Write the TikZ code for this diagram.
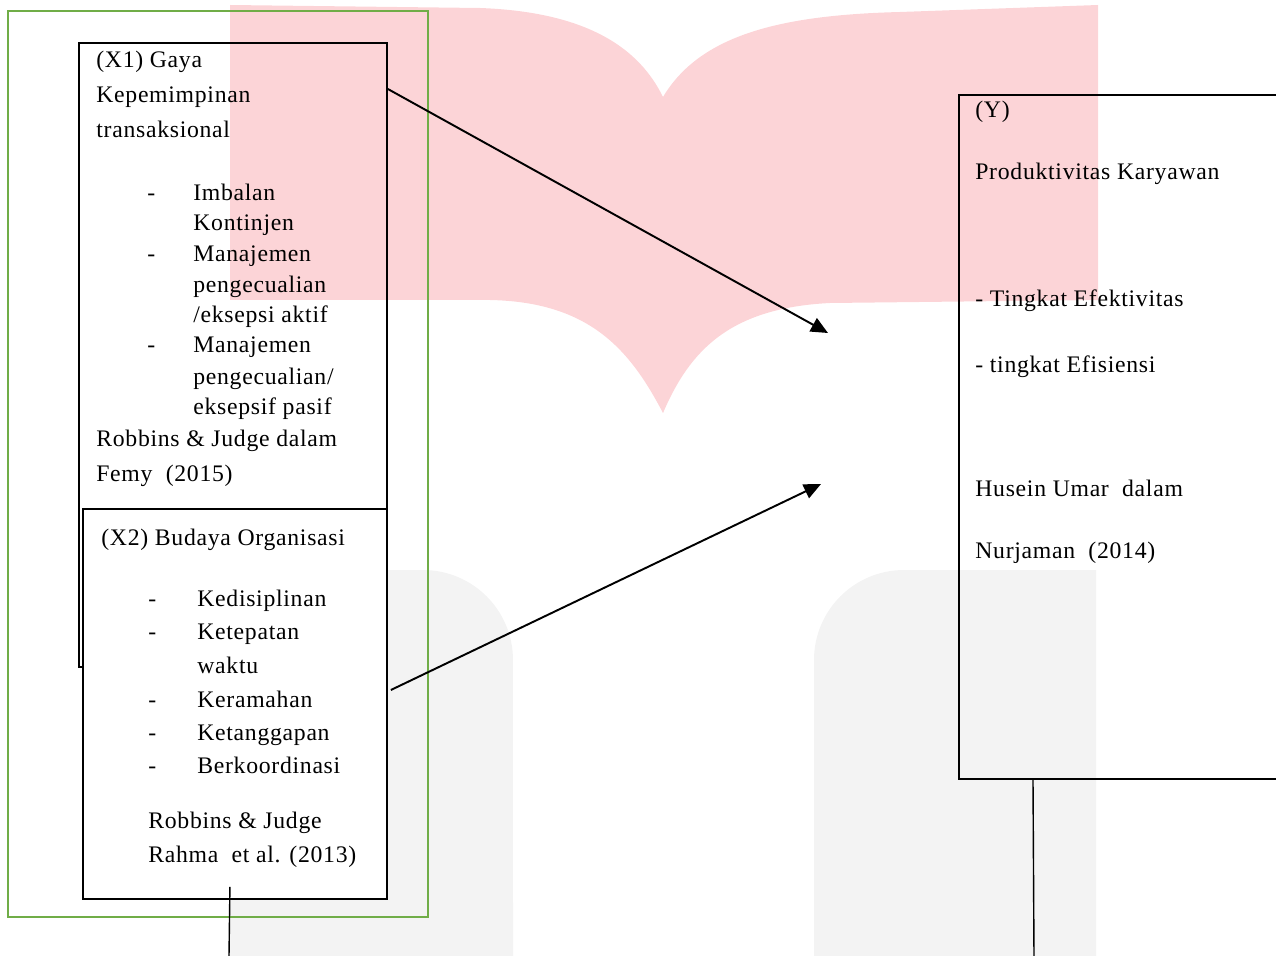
\documentclass[tikz,border=0pt]{standalone}
\usepackage{fontspec}
\setmainfont{Liberation Serif}[LetterSpace=3]
\usetikzlibrary{arrows.meta}
\definecolor{hijau}{RGB}{112,173,71}
\definecolor{merahmuda}{RGB}{252,212,215}
\definecolor{abu}{RGB}{243,243,243}

\begin{document}
\begin{tikzpicture}[x=0.02cm, y=-0.02cm]
  \tikzstyle{kotak}=[draw, line width=1.1pt, rectangle, anchor=north west, inner sep=0];
  \tikzstyle{teks}=[anchor=base west, inner sep=0, font=\fontsize{13.5}{15}\selectfont];
  \tikzstyle{panah}=[line width=1.1pt, -{Triangle[length=0.34cm, width=0.3cm]}];
  \tikzstyle{garis}=[line width=0.8pt];

  \useasboundingbox (0,0) rectangle (1276,956);

  \fill[merahmuda] (230,5) -- (480,8) .. controls (590,12) and (640,50) .. (663,97)
    -- (663,413) .. controls (630,350) and (590,302) .. (490,300) -- (230,300) -- cycle;
  \fill[merahmuda] (663,97) .. controls (700,35) and (780,15) .. (900,12) -- (1098,5)
    -- (1098,300) -- (830,303) .. controls (730,308) and (690,350) .. (663,413) -- cycle;
  \fill[abu] (229,956) -- (229,570) -- (423,570) arc[start angle=90, end angle=0, radius=1.8cm]
    -- (513,956) -- cycle;
  \fill[abu] (814,956) -- (814,660) arc[start angle=180, end angle=90, radius=1.8cm]
    -- (1096,570) -- (1096,956) -- cycle;

  \node[kotak, draw=hijau, minimum width=8.4cm, minimum height=18.12cm] (bingkai) at (7,10) {};
  \node[kotak, minimum width=6.16cm, minimum height=12.48cm] (X1) at (78,42) {};
  \node[kotak, fill=white, minimum width=6.08cm, minimum height=7.8cm] (X2) at (82,508) {};
  \node[kotak, minimum width=6.8cm, minimum height=13.68cm] (Y) at (958,94) {};

  \node[teks] (x1baris1) at (96,68) {(X1) Gaya};
  \node[teks] (x1baris2) at (96,103) {Kepemimpinan};
  \node[teks] (x1baris3) at (96,138) {transaksional};
  \node[teks] (x1strip1) at (147,201) {-};
  \node[teks] (x1ind1) at (193,201) {Imbalan};
  \node[teks] (x1ind1b) at (193,231) {Kontinjen};
  \node[teks] (x1strip2) at (147,262) {-};
  \node[teks] (x1ind2) at (193,262) {Manajemen};
  \node[teks] (x1ind2b) at (193,293) {pengecualian};
  \node[teks] (x1ind2c) at (193,323) {/eksepsi aktif};
  \node[teks] (x1strip3) at (147,353) {-};
  \node[teks] (x1ind3) at (193,353) {Manajemen};
  \node[teks] (x1ind3b) at (193,385) {pengecualian/};
  \node[teks] (x1ind3c) at (193,415) {eksepsif pasif};
  \node[teks] (x1sumber1) at (96,447) {Robbins \& Judge dalam};
  \node[teks] (x1sumber2) at (96,481) {Femy\ \ (2015)};

  \node[teks] (x2baris1) at (101,545) {(X2) Budaya Organisasi};
  \node[teks] (x2strip1) at (148,606) {-};
  \node[teks] (x2ind1) at (197,606) {Kedisiplinan};
  \node[teks] (x2strip2) at (148,640) {-};
  \node[teks] (x2ind2) at (197,640) {Ketepatan};
  \node[teks] (x2ind2b) at (197,673) {waktu};
  \node[teks] (x2strip3) at (148,707) {-};
  \node[teks] (x2ind3) at (197,707) {Keramahan};
  \node[teks] (x2strip4) at (148,740) {-};
  \node[teks] (x2ind4) at (197,740) {Ketanggapan};
  \node[teks] (x2strip5) at (148,773) {-};
  \node[teks] (x2ind5) at (197,773) {Berkoordinasi};
  \node[teks] (x2sumber1) at (148,828) {Robbins \& Judge};
  \node[teks] (x2sumber2) at (148,862) {Rahma\ \ et al. (2013)};

  \node[teks] (ybaris1) at (975,118) {(Y)};
  \node[teks] (ybaris2) at (975,180) {Produktivitas Karyawan};
  \node[teks] (yind1) at (975,307) {- Tingkat Efektivitas};
  \node[teks] (yind2) at (975,373) {- tingkat Efisiensi};
  \node[teks] (ysumber1) at (975,497) {Husein Umar\ \ dalam};
  \node[teks] (ysumber2) at (975,559) {Nurjaman\ \ (2014)};

  \coordinate (ujung1) at (828,333);
  \coordinate (ujung2) at (821,484);
  \coordinate (bawahX2) at (229,956);
  \coordinate (bawahY) at (1034,956);

  \draw[panah] (X1.north east) ++(0,47) -- (ujung1);
  \draw[panah] (X2.north east) ++(3,182) -- (ujung2);
  \draw[garis] (X2.south) ++(-5,-13) -- (bawahX2);
  \draw[garis] (Y.south west) ++(75,0) -- (bawahY);
\end{tikzpicture}
\end{document}
